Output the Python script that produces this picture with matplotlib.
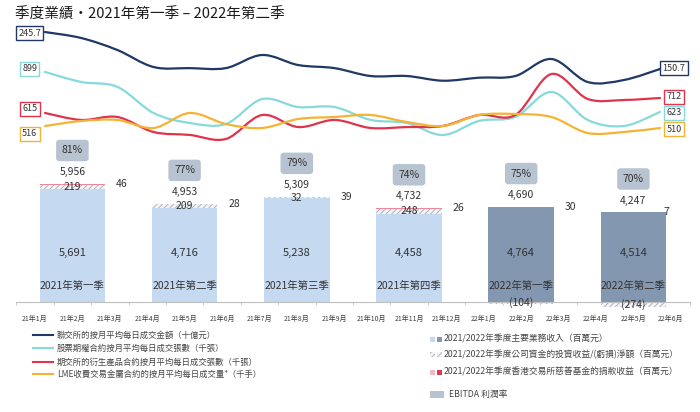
import matplotlib.pyplot as plt
import numpy as np
from matplotlib.path import Path
from matplotlib.patches import PathPatch, Rectangle
from matplotlib.lines import Line2D

plt.rcParams['font.family'] = ['Noto Sans CJK TC', 'DejaVu Sans']
plt.rcParams['hatch.linewidth'] = 0.6

# monthly series
months = ["21年1月", "21年2月", "21年3月", "21年4月", "21年5月", "21年6月",
          "21年7月", "21年8月", "21年9月", "21年10月", "21年11月", "21年12月",
          "22年1月", "22年2月", "22年3月", "22年4月", "22年5月", "22年6月"]
hkex_adt = [245.7, 230.4, 199.5, 155.8, 153.0, 153.0, 186.7, 160.9, 153.0,
            132.7, 132.7, 120.6, 128.4, 132.7, 176.4, 117.3, 122.4, 150.7]
stock_options = [899, 830, 796, 616, 547, 540, 712, 657, 657,
                 568, 547, 464, 561, 589, 761, 568, 526, 623]
hkfe_deriv = [615, 570, 589, 492, 473, 447, 602, 524, 570,
              518, 524, 531, 602, 602, 867, 706, 699, 712]
lme_adv = [516, 531, 534, 510, 555, 522, 510, 537, 543,
           549, 528, 516, 549, 552, 543, 495, 498, 510]

# quarterly bars (HK$ million)
quarters = ["2021年第一季", "2021年第二季", "2021年第三季",
            "2021年第四季", "2022年第一季", "2022年第二季"]
core_rev = [5691, 4716, 5238, 4458, 4764, 4514]
inv_income = [219, 209, 32, 248, -104, -274]
donation = [46, 28, 39, 26, 30, 7]
ebitda = [81, 77, 79, 74, 75, 70]

W, H = 700, 412
fig = plt.figure(figsize=(7, 4.12), dpi=100)


def px_rect(x0, y0, x1, y1):
    return [x0 / W, 1 - y1 / H, (x1 - x0) / W, (y1 - y0) / H]


def smooth_path(xs, ys):
    pts = np.column_stack([xs, ys]).astype(float)
    n = len(pts)
    verts = [pts[0]]
    codes = [Path.MOVETO]
    for i in range(n - 1):
        p0 = pts[i - 1] if i > 0 else pts[i]
        p1, p2 = pts[i], pts[i + 1]
        p3 = pts[i + 2] if i + 2 < n else pts[i + 1]
        verts += [p1 + (p2 - p0) / 6, p2 - (p3 - p1) / 6, p2]
        codes += [Path.CURVE4] * 3
    return Path(verts, codes)


txt = '#333333'

# ---- bars ----
ax = fig.add_axes(px_rect(16.3, 140, 689.5, 310))
ax.set_xlim(-0.5, 17.5)
ax.set_ylim(-403, 8165)
xq = np.arange(len(quarters)) * 3 + 1
bw = 1.75
light, dark = '#c5d9f1', '#8497b0'
main_cols = [light] * 4 + [dark] * 2
don_cols = ['#e9899b'] * 4 + ['#d93a52'] * 2

ax.bar(xq, core_rev, bw, color=main_cols, zorder=2)
inv_bottom = [c if v > 0 else 0 for c, v in zip(core_rev, inv_income)]
ax.bar(xq, inv_income, bw, bottom=inv_bottom, facecolor='#f4f4f6',
       edgecolor='#a3abbb', hatch='//////', lw=0, zorder=2)
don_bottom = [c + max(v, 0) for c, v in zip(core_rev, inv_income)]
ax.bar(xq, donation, bw, bottom=don_bottom, color=don_cols, zorder=3)

for i, x in enumerate(xq):
    top = don_bottom[i] + donation[i]
    total = core_rev[i] + inv_income[i] + donation[i]
    ax.text(x, 2450, f"{core_rev[i]:,}", ha='center', va='center', fontsize=8, color=txt, zorder=4)
    ax.text(x, 800, quarters[i], ha='center', va='center', fontsize=7.5, color=txt, zorder=4)
    inv = inv_income[i]
    if inv > 0:
        ax.text(x, core_rev[i] + inv / 2, f"{inv:,}", ha='center', va='center',
                fontsize=7.5, color=txt, zorder=4)
    else:
        ax.text(x, inv / 2, f"({-inv:,})", ha='center', va='center',
                fontsize=7.5, color=txt, zorder=4)
    ax.annotate(f"{total:,}", (x, top), xytext=(0, 8.5), textcoords='offset points',
                ha='center', va='center', fontsize=7.5, color=txt)
    dx = 12 if donation[i] >= 10 else 0
    ax.annotate(f"{donation[i]}", (x + bw / 2, top), xytext=(dx, 0), textcoords='offset points',
                ha='center', va='center', fontsize=7.5, color=txt, zorder=5)
    ax.annotate(f"{ebitda[i]}%", (x, top), xytext=(0, 24), textcoords='offset points',
                ha='center', va='center', fontsize=7.5, color=txt,
                bbox=dict(boxstyle='round,pad=0.55,rounding_size=0.3', fc='#b8c3d1', ec='none'))

for s in ['top', 'left', 'right']:
    ax.spines[s].set_visible(False)
ax.spines['bottom'].set_position(('data', 0))
ax.spines['bottom'].set_color('#bfbfbf')
ax.spines['bottom'].set_linewidth(0.8)
ax.set_yticks([])
ax.set_xticks(np.arange(len(months)))
ax.set_xticklabels(months, fontsize=5, color='#404040')
ax.set_xticks(np.arange(-0.5, 18, 1), minor=True)
ax.tick_params(axis='x', which='major', length=0, pad=9)
ax.tick_params(axis='x', which='minor', length=2, color='#bfbfbf')
ax.patch.set_alpha(0)

# ---- lines ----
axl = fig.add_axes(px_rect(45, 25, 660, 145))
axl.set_xlim(0, 17)
series = [
    (hkex_adt, '#1f3864', (-44.6, 263.8), "{:.1f}", (-1, 1)),
    (stock_options, '#86d9dc', (395, 1223), "{:d}", (3, -1)),
    (hkfe_deriv, '#e0334c', (408, 1184), "{:d}", (4, 1)),
    (lme_adv, '#f5b335', (459, 819), "{:d}", (-8, -1)),
]
xm = np.arange(len(months))
for k, (vals, col, lim, fmt, (dy0, dy1)) in enumerate(series):
    a = axl if k == 0 else axl.twinx()
    a.set_ylim(*lim)
    a.set_xlim(0, 17)
    a.axis('off')
    a.add_patch(PathPatch(smooth_path(xm, vals), fc='none', ec=col, lw=1.6,
                          capstyle='round', clip_on=False))
    box = dict(boxstyle='square,pad=0.25', fc='white', ec=col, lw=1)
    a.annotate(fmt.format(vals[0]), (0, vals[0]), xytext=(-11, dy0 * 0.72),
               textcoords='offset points', ha='center', va='center',
               fontsize=6.5, color=txt, bbox=box)
    a.annotate(fmt.format(vals[-1]), (17, vals[-1]), xytext=(10, dy1 * 0.72),
               textcoords='offset points', ha='center', va='center',
               fontsize=6.5, color=txt, bbox=box)
axl.axis('off')

# ---- title ----
fig.text(15 / W, 1 - 15 / H, "季度業績·2021年第一季 – 2022年第二季",
         fontsize=10.5, va='center', ha='left', color='#1a1a1a')

# ---- legends ----
line_labels = ["聯交所的按月平均每日成交金額（十億元）",
               "股票期權合約按月平均每日成交張數（千張）",
               "期交所的衍生產品合約按月平均每日成交張數（千張）",
               "LME收費交易金屬合約的按月平均每日成交量⁴（千手）"]
for (vals, col, *_), lab, y in zip(series, line_labels, [335, 348, 362, 374]):
    fig.add_artist(Line2D([33 / W, 53 / W], [1 - y / H] * 2, color=col, lw=1.5))
    fig.text(57 / W, 1 - y / H, lab, fontsize=6, va='center', color='#444444')

bar_labels = ["2021/2022年季度主要業務收入（百萬元）",
              "2021/2022年季度公司資金的投資收益/(虧損)淨額（百萬元）",
              "2021/2022年季度香港交易所慈善基金的捐款收益（百萬元）"]
sq_cols = [(light, dark), ('#f4f4f6', '#f4f4f6'), ('#f2b8c3', '#d93a52')]
for i, (lab, y) in enumerate(zip(bar_labels, [339, 354, 372])):
    for j, x0 in enumerate([430, 437]):
        r = Rectangle((x0 / W, 1 - (y + 2.5) / H), 5 / W, 5 / H, transform=fig.transFigure,
                      fc=sq_cols[i][j], ec='#a3abbb' if i == 1 else 'none', lw=0,
                      hatch='//////' if i == 1 else None)
        fig.add_artist(r)
    fig.text(444 / W, 1 - y / H, lab, fontsize=6.3, va='center', color='#444444')
fig.add_artist(Rectangle((430 / W, 1 - 397.5 / H), 14 / W, 7 / H, transform=fig.transFigure,
                         fc='#b8c3d1', ec='none'))
fig.text(449 / W, 1 - 394 / H, "EBITDA 利潤率", fontsize=6.3, va='center', color='#444444')

fig.savefig('out.png', dpi=100)
